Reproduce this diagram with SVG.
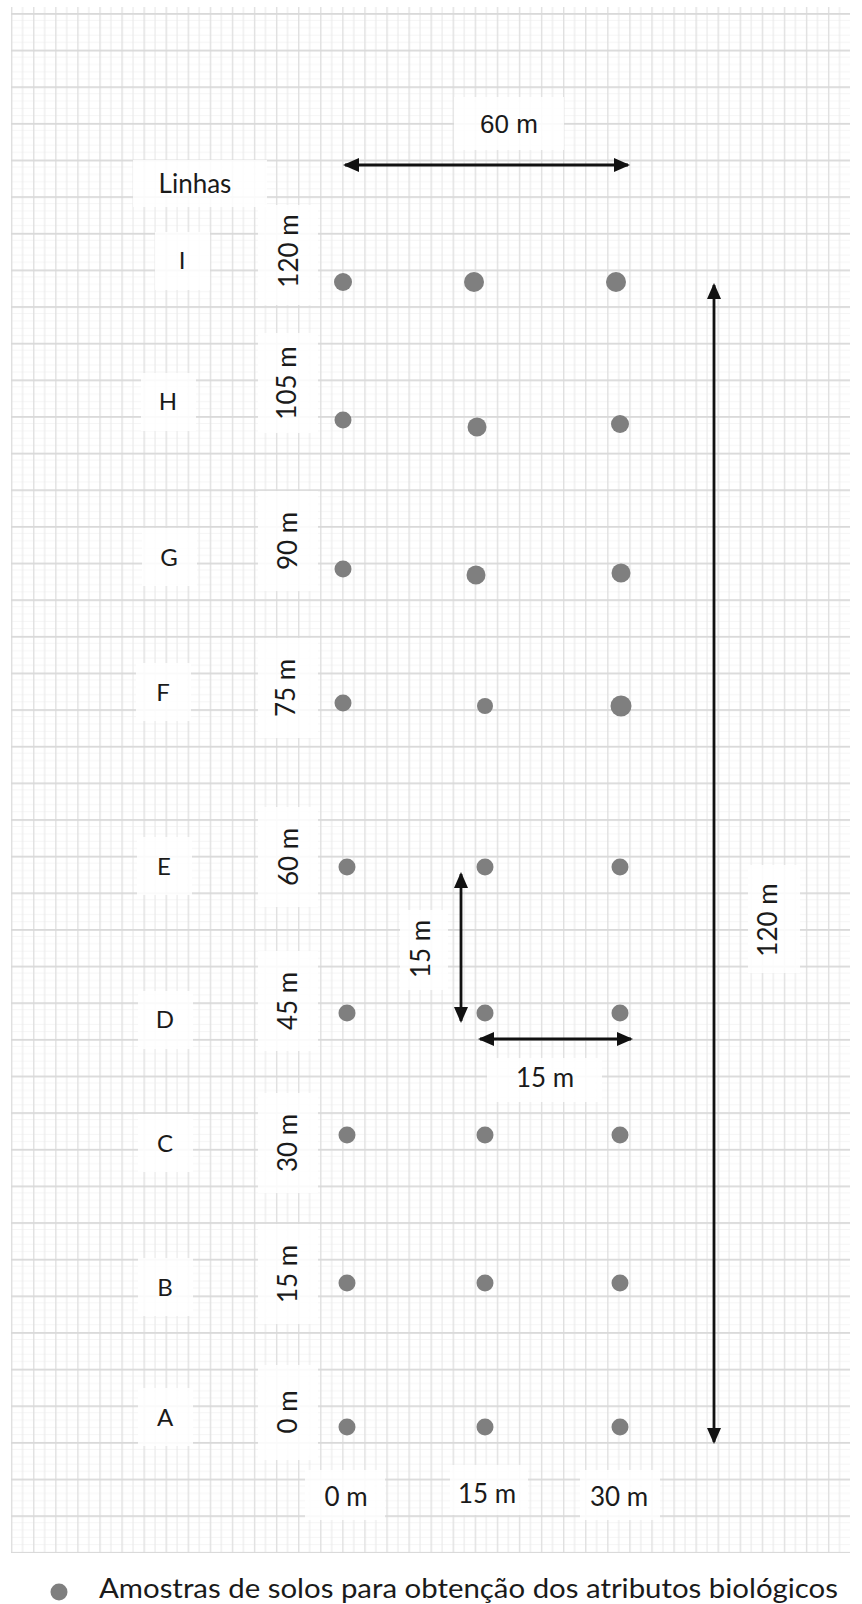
<svg xmlns="http://www.w3.org/2000/svg" width="862" height="1604" viewBox="0 0 862 1604">
<style>
.lbl{font-family:Lato,"Open Sans","Liberation Sans",sans-serif;font-size:26px;fill:#1a1a1a;text-anchor:middle}
.row{font-family:Lato,"Open Sans","Liberation Sans",sans-serif;font-size:24px;fill:#1a1a1a;text-anchor:middle}
.ar{font-family:"Liberation Sans",Arial,sans-serif;font-size:26px;fill:#1a1a1a;text-anchor:middle}
.dot{fill:#7f7f7f}
.bg{fill:#ffffff;opacity:0.85}
.arrow{stroke:#111;stroke-width:2.8;fill:none;marker-start:url(#ah);marker-end:url(#ah)}
</style>
<defs>
<pattern id="grid" patternUnits="userSpaceOnUse" x="11" y="13" width="22.08" height="36.64">
<rect x="0" y="7.1" width="22.08" height="0.8" fill="#f3f3f3"/>
<rect x="0" y="14.4" width="22.08" height="0.8" fill="#f3f3f3"/>
<rect x="0" y="21.7" width="22.08" height="0.8" fill="#f3f3f3"/>
<rect x="0" y="29.0" width="22.08" height="0.8" fill="#f3f3f3"/>
<rect x="0" y="0" width="1.4" height="36.64" fill="#e0e0e0"/>
<rect x="11.04" y="0" width="1.1" height="36.64" fill="#e9e9e9"/>
<rect x="0" y="0" width="22.08" height="1.8" fill="#d9d9d9"/>
</pattern>
<marker id="ah" viewBox="0 0 16 14" refX="14" refY="7" markerWidth="16" markerHeight="14" markerUnits="userSpaceOnUse" orient="auto-start-reverse">
<path d="M0,0 L16,7 L0,14 z" fill="#111"/>
</marker>
</defs>
<rect width="862" height="1604" fill="#ffffff"/>
<rect id="grid-paper" x="11" y="7" width="839" height="1546" fill="url(#grid)"/>

<g id="label-backgrounds">
<rect class="bg" x="133" y="160" width="134" height="47"/>
<rect class="bg" x="454" y="97" width="110" height="53"/>
<rect class="bg" x="155" y="232" width="55" height="58"/>
<rect class="bg" x="141" y="373" width="55" height="58"/>
<rect class="bg" x="142" y="528" width="55" height="58"/>
<rect class="bg" x="136" y="663" width="55" height="58"/>
<rect class="bg" x="137" y="837" width="55" height="58"/>
<rect class="bg" x="138" y="991" width="55" height="58"/>
<rect class="bg" x="138" y="1114" width="55" height="58"/>
<rect class="bg" x="138" y="1258" width="55" height="58"/>
<rect class="bg" x="138" y="1388" width="55" height="58"/>
<rect class="bg" x="258" y="205" width="60" height="100"/>
<rect class="bg" x="258" y="333" width="60" height="100"/>
<rect class="bg" x="258" y="491" width="60" height="100"/>
<rect class="bg" x="258" y="638" width="60" height="100"/>
<rect class="bg" x="258" y="807" width="60" height="100"/>
<rect class="bg" x="258" y="951" width="60" height="100"/>
<rect class="bg" x="258" y="1093" width="60" height="100"/>
<rect class="bg" x="258" y="1224" width="60" height="100"/>
<rect class="bg" x="258" y="1365" width="60" height="95"/>
<rect class="bg" x="748" y="865" width="52" height="108"/>
<rect class="bg" x="400" y="910" width="48" height="80"/>
<rect class="bg" x="487" y="1058" width="115" height="44"/>
<rect class="bg" x="305" y="1470" width="80" height="50"/>
<rect class="bg" x="450" y="1465" width="78" height="50"/>
<rect class="bg" x="580" y="1470" width="80" height="50"/>
</g>

<g id="header">
<text class="lbl" x="195" y="193">Linhas</text>
</g>

<g id="row-I">
<text class="row" x="182" y="269">I</text>
<text class="lbl" transform="rotate(-90 298 251)" x="298" y="251">120 m</text>
<circle class="dot" cx="343" cy="282" r="9"/>
<circle class="dot" cx="474" cy="282" r="10"/>
<circle class="dot" cx="616" cy="282" r="10"/>
</g>
<g id="row-H">
<text class="row" x="168" y="410">H</text>
<text class="lbl" transform="rotate(-90 296 383)" x="296" y="383">105 m</text>
<circle class="dot" cx="343" cy="420" r="8.5"/>
<circle class="dot" cx="477" cy="427" r="9.5"/>
<circle class="dot" cx="620" cy="424" r="9"/>
</g>
<g id="row-G">
<text class="row" x="169" y="566">G</text>
<text class="lbl" transform="rotate(-90 297 541)" x="297" y="541">90 m</text>
<circle class="dot" cx="343" cy="569" r="8.5"/>
<circle class="dot" cx="476" cy="575" r="9.5"/>
<circle class="dot" cx="621" cy="573" r="9.5"/>
</g>
<g id="row-F">
<text class="row" x="163" y="701">F</text>
<text class="lbl" transform="rotate(-90 295 688)" x="295" y="688">75 m</text>
<circle class="dot" cx="343" cy="703" r="8.5"/>
<circle class="dot" cx="485" cy="706" r="8"/>
<circle class="dot" cx="621" cy="706" r="10.5"/>
</g>
<g id="row-E">
<text class="row" x="164" y="875">E</text>
<text class="lbl" transform="rotate(-90 298 857)" x="298" y="857">60 m</text>
<circle class="dot" cx="347" cy="867" r="8.5"/>
<circle class="dot" cx="485" cy="867" r="8.5"/>
<circle class="dot" cx="620" cy="867" r="8.5"/>
</g>
<g id="row-D">
<text class="row" x="165" y="1028">D</text>
<text class="lbl" transform="rotate(-90 297 1001)" x="297" y="1001">45 m</text>
<circle class="dot" cx="347" cy="1013" r="8.5"/>
<circle class="dot" cx="485" cy="1013" r="8.5"/>
<circle class="dot" cx="620" cy="1013" r="8.5"/>
</g>
<g id="row-C">
<text class="row" x="165" y="1152">C</text>
<text class="lbl" transform="rotate(-90 297 1143)" x="297" y="1143">30 m</text>
<circle class="dot" cx="347" cy="1135" r="8.5"/>
<circle class="dot" cx="485" cy="1135" r="8.5"/>
<circle class="dot" cx="620" cy="1135" r="8.5"/>
</g>
<g id="row-B">
<text class="row" x="165" y="1296">B</text>
<text class="lbl" transform="rotate(-90 297 1274)" x="297" y="1274">15 m</text>
<circle class="dot" cx="347" cy="1283" r="8.5"/>
<circle class="dot" cx="485" cy="1283" r="8.5"/>
<circle class="dot" cx="620" cy="1283" r="8.5"/>
</g>
<g id="row-A">
<text class="row" x="165" y="1426">A</text>
<text class="lbl" transform="rotate(-90 297 1412)" x="297" y="1412">0 m</text>
<circle class="dot" cx="347" cy="1427" r="8.5"/>
<circle class="dot" cx="485" cy="1427" r="8.5"/>
<circle class="dot" cx="620" cy="1427" r="8.5"/>
</g>

<g id="column-labels">
<text class="lbl" x="346" y="1506">0 m</text>
<text class="lbl" x="487" y="1503">15 m</text>
<text class="lbl" x="619" y="1506">30 m</text>
</g>

<g id="connectors">
<line class="arrow" x1="345" y1="165" x2="628" y2="165"/>
<line class="arrow" x1="714" y1="285" x2="714" y2="1442"/>
<line class="arrow" x1="461" y1="874" x2="461" y2="1021"/>
<line class="arrow" x1="480" y1="1039" x2="631" y2="1039"/>
</g>

<g id="dimension-labels">
<text class="ar" x="509" y="133">60 m</text>
<text class="lbl" transform="rotate(-90 777 920)" x="777" y="920">120 m</text>
<text class="lbl" transform="rotate(-90 430 949)" x="430" y="949">15 m</text>
<text class="lbl" x="545" y="1087">15 m</text>
</g>

<g id="legend">
<circle class="dot" cx="59" cy="1592" r="8.5"/>
<text x="99" y="1598" font-family="Lato,'Open Sans','Liberation Sans',sans-serif" font-size="26" fill="#1a1a1a" textLength="739" lengthAdjust="spacingAndGlyphs">Amostras de solos para obtenção dos atributos biológicos</text>
</g>
</svg>
